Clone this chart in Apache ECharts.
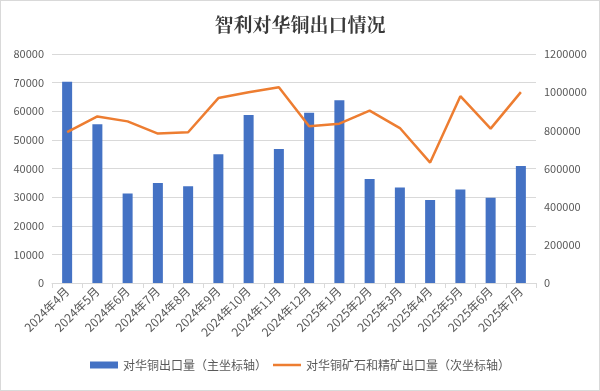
<!DOCTYPE html>
<html><head><meta charset="utf-8">
<script src="https://cdn.jsdelivr.net/npm/echarts@6/dist/echarts.min.js"></script>
<style>html,body{margin:0;padding:0;background:#fff}#c{width:598px;height:389px;border:1px solid #d9d9d9}</style>
</head><body><div id="c"></div>
<script>
const categories = ['2024年4月','2024年5月','2024年6月','2024年7月','2024年8月','2024年9月','2024年10月','2024年11月','2024年12月','2025年1月','2025年2月','2025年3月','2025年4月','2025年5月','2025年6月','2025年7月'];
const copperExports = [70300,55500,31300,34900,33800,45000,58700,46800,59500,63800,36300,33400,29000,32700,29800,40900];
const oreExports = [791000,873000,847000,783000,790000,969000,1000000,1026000,821000,835000,903000,812000,631000,979000,809000,1000000];
const chart = echarts.init(document.getElementById('c'));
const lab = {color:'#595959', fontSize:11, fontFamily:'Noto Sans CJK SC', formatter:v=>String(v)};
chart.setOption({
  animation:false,
  title:{text:'智利对华铜出口情况', left:'center', top:9, textStyle:{fontSize:19, fontWeight:'bold', color:'#3a3a3a', fontFamily:'Noto Serif CJK SC, Noto Sans CJK SC'}},
  grid:{left:51, right:63, top:53, bottom:107},
  legend:{bottom:14, left:'center', itemGap:6, itemWidth:28, itemHeight:7,
    textStyle:{color:'#595959', fontSize:12, fontFamily:'Noto Sans CJK SC'},
    data:[{name:'对华铜出口量（主坐标轴）', icon:'rect'},{name:'对华铜矿石和精矿出口量（次坐标轴）', icon:'path://M0,0L28,0L28,2.5L0,2.5Z'}]},
  xAxis:{type:'category', data:categories, boundaryGap:true,
    axisLine:{lineStyle:{color:'#d9d9d9'}}, axisTick:{show:true, length:5, lineStyle:{color:'#d9d9d9'}},
    axisLabel:{rotate:45, interval:0, margin:6, color:'#595959', fontSize:12, fontFamily:'Noto Sans CJK SC'}},
  yAxis:[
    {type:'value', min:0, max:80000, interval:10000, axisLabel:lab, splitLine:{lineStyle:{color:'#d9d9d9'}}, axisLine:{show:false}},
    {type:'value', min:0, max:1200000, interval:200000, axisLabel:lab, splitLine:{show:false}, axisLine:{show:false}}
  ],
  series:[
    {name:'对华铜出口量（主坐标轴）', type:'bar', data:copperExports, barWidth:10, itemStyle:{color:'#4472C4'}},
    {name:'对华铜矿石和精矿出口量（次坐标轴）', type:'line', yAxisIndex:1, data:oreExports, symbol:'none', lineStyle:{color:'#ED7D31', width:2.5}, itemStyle:{color:'#ED7D31'}}
  ]
});
</script></body></html>
